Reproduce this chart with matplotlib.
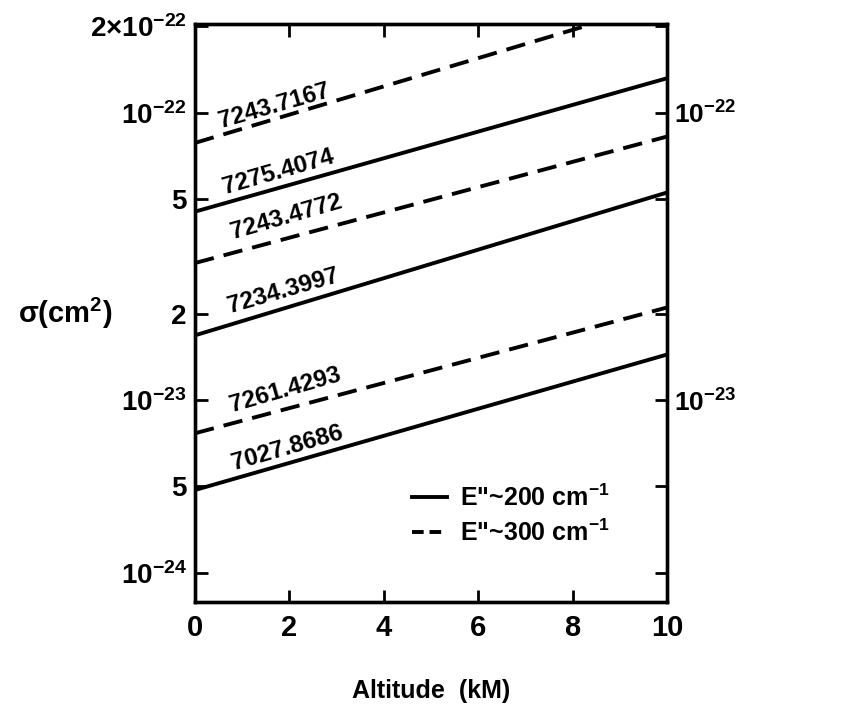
import matplotlib
matplotlib.use('Agg')
import matplotlib.pyplot as plt
from matplotlib.ticker import FixedLocator, FixedFormatter, NullLocator
from matplotlib.lines import Line2D

plt.rcParams['font.family'] = ['Liberation Sans', 'DejaVu Sans']
plt.rcParams['font.weight'] = 'bold'
plt.rcParams['mathtext.fontset'] = 'custom'
plt.rcParams['mathtext.rm'] = 'Liberation Sans:bold'
plt.rcParams['mathtext.bf'] = 'Liberation Sans:bold'
plt.rcParams['mathtext.it'] = 'Liberation Sans:bold'
plt.rcParams['mathtext.default'] = 'bf'

# ---- data ----
altitude = [0, 10]
line_names = ["7243.7167", "7275.4074", "7243.4772", "7234.3997", "7261.4293", "7027.8686"]
line_groups = ["300", "200", "300", "200", "300", "200"]   # E'' ~ cm^-1
sigma_7243_7167 = [7.86e-23, 2.44e-22]
sigma_7275_4074 = [4.53e-23, 1.32e-22]
sigma_7243_4772 = [3.00e-23, 8.27e-23]
sigma_7234_3997 = [1.68e-23, 5.28e-23]
sigma_7261_4293 = [7.66e-24, 2.10e-23]
sigma_7027_8686 = [4.86e-24, 1.44e-23]
series = [sigma_7243_7167, sigma_7275_4074, sigma_7243_4772,
          sigma_7234_3997, sigma_7261_4293, sigma_7027_8686]

ytick_vals = [2e-22, 1e-22, 5e-23, 2e-23, 1e-23, 5e-24, 2.5e-24]
ytick_labels_left = [r"2$\times$10$^{-22}$", r"10$^{-22}$", "5", "2", r"10$^{-23}$", "5", r"10$^{-24}$"]
ytick_labels_right = ["", r"10$^{-22}$", "", "", r"10$^{-23}$", "", ""]
xtick_vals = [0, 2, 4, 6, 8, 10]

# label placement (x in km, y in cm^2)
label_pos = [(1.68, 1.06e-22), (1.76, 6.25e-23), (1.93, 4.33e-23),
             (1.88, 2.40e-23), (1.91, 1.08e-23), (1.95, 6.80e-24)]

# ---- figure ----
fig = plt.figure(figsize=(8.53, 7.05), dpi=100)
ax = fig.add_axes([0.2286, 0.1461, 0.5533, 0.8199])

lw = 2.8
for name, grp, ys in zip(line_names, line_groups, series):
    if grp == "200":
        ax.plot(altitude, ys, color='black', lw=lw, solid_capstyle='butt')
    else:
        ax.plot(altitude, ys, color='black', lw=lw, dashes=(5, 2.6), dash_capstyle='butt')

for name, (lx, ly) in zip(line_names, label_pos):
    ax.text(lx, ly, name, fontsize=17.5, fontweight='bold', rotation=16,
            ha='center', va='center', rotation_mode='anchor')

ax.set_yscale('log')
ax.set_xlim(0, 10)
ax.set_ylim(1.98e-24, 2.04e-22)

ax.xaxis.set_major_locator(FixedLocator(xtick_vals))
ax.set_xticklabels([str(v) for v in xtick_vals], fontsize=21, fontweight='bold')
ax.yaxis.set_major_locator(FixedLocator(ytick_vals))
ax.yaxis.set_major_formatter(FixedFormatter(ytick_labels_left))
ax.yaxis.set_minor_locator(NullLocator())
for lab in ax.get_yticklabels():
    lab.set_fontsize(20)

ax.tick_params(axis='both', which='major', direction='in', length=9, width=2,
               top=True, right=False, pad=6)
ax.tick_params(axis='x', pad=9)

ax2 = ax.twinx()
ax2.set_yscale('log')
ax2.set_ylim(ax.get_ylim())
ax2.yaxis.set_major_locator(FixedLocator(ytick_vals))
ax2.yaxis.set_major_formatter(FixedFormatter(ytick_labels_right))
ax2.yaxis.set_minor_locator(NullLocator())
ax2.tick_params(axis='y', direction='in', length=9, width=2, pad=5)
for lab in ax2.get_yticklabels():
    lab.set_fontsize(19)

for a in (ax, ax2):
    for sp in a.spines.values():
        sp.set_linewidth(2.4)

ax.set_xlabel("Altitude  (kM)", fontsize=18, fontweight='bold', labelpad=26)
ax.set_ylabel(r"$\sigma$(cm$^{2}$)", fontsize=21, fontweight='bold', rotation=0,
              ha='center', va='center')
ax.yaxis.set_label_coords(-0.275, 0.5)

handles = [Line2D([], [], color='black', lw=lw),
           Line2D([], [], color='black', lw=lw, dashes=(3, 1.5))]
ax.legend(handles, ['E"~200 cm$^{-1}$', 'E"~300 cm$^{-1}$'], loc='lower right',
          bbox_to_anchor=(0.905, 0.075), frameon=False, fontsize=18,
          handlelength=1.4, handletextpad=0.5, labelspacing=0.35, borderpad=0)

fig.savefig('out.png', dpi=100)
